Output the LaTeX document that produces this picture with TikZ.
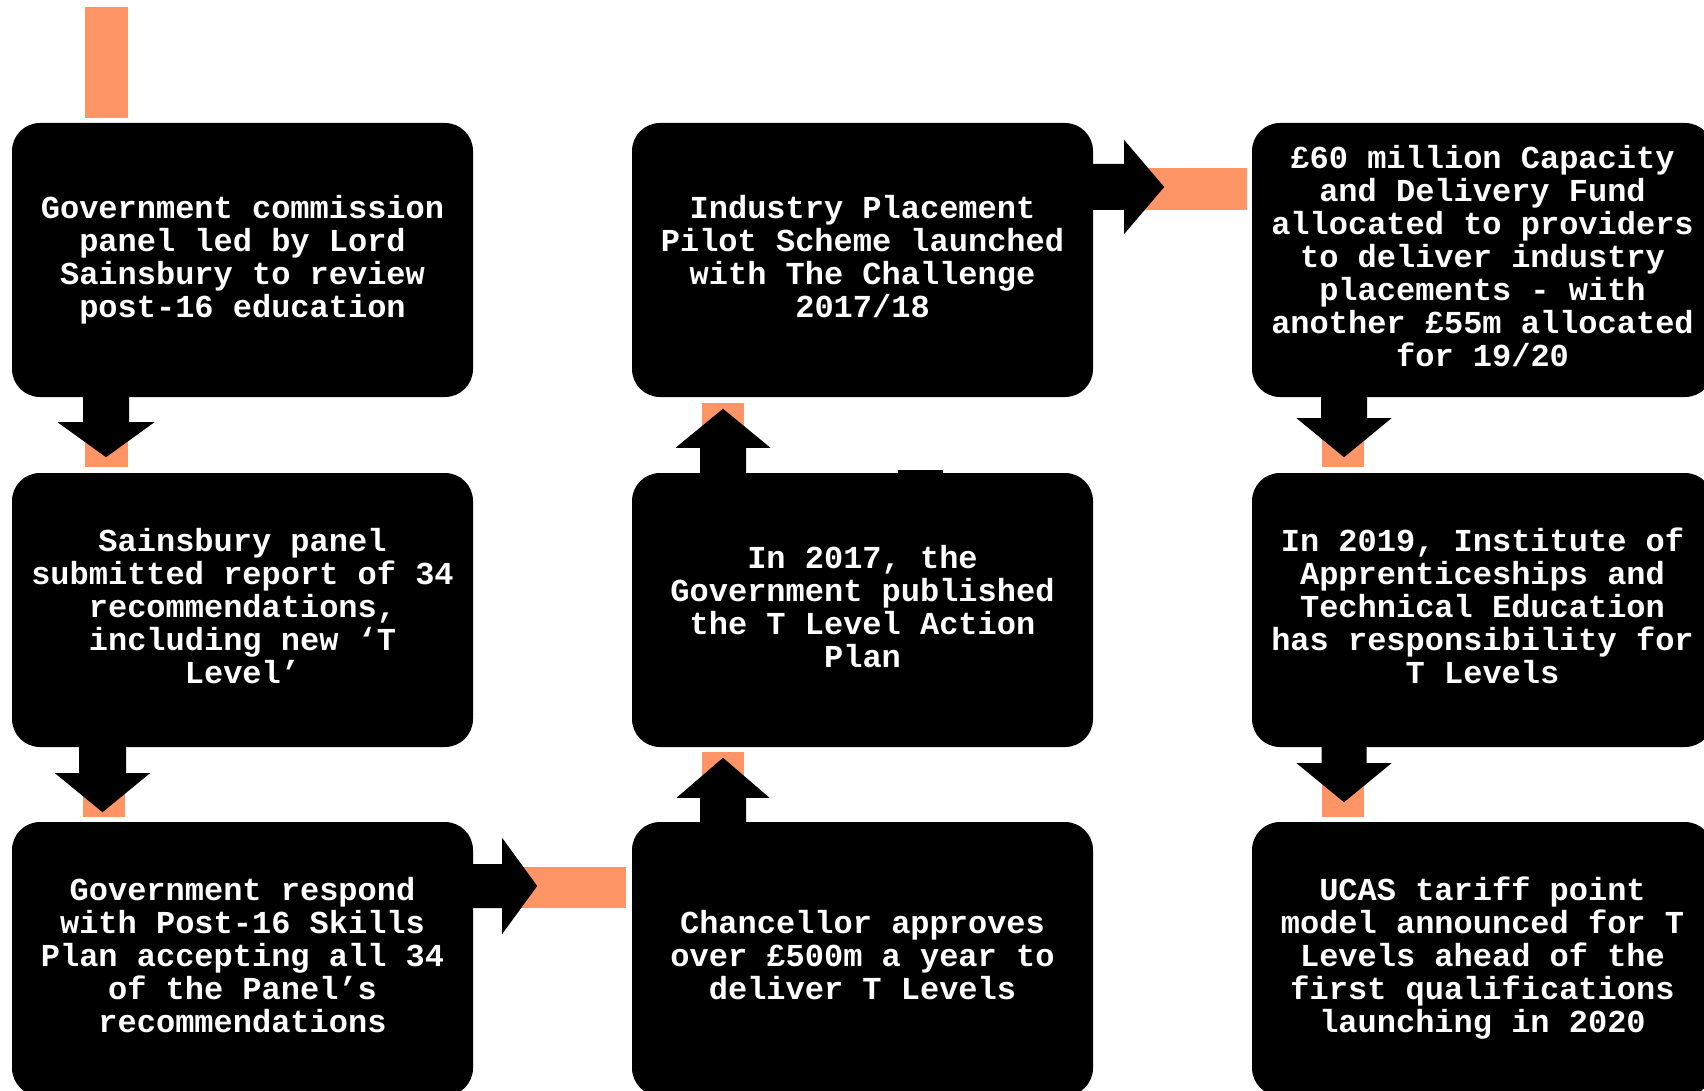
\documentclass[tikz,border=0pt]{standalone}
\usepackage{fontspec}
\newfontfamily\boxfont{Liberation Mono}
\usetikzlibrary{calc}
\definecolor{accent}{RGB}{255,148,102}
\newcommand\vblock[5]{% start, shaft half, shaft len, head half, head len
  \fill[black] ($(#1)+(-#2,0)$) -- ($(#1)+(#2,0)$) -- ($(#1)+(#2,#3)$) -- ($(#1)+(#4,#3)$)
    -- ($(#1)+(0,#3+#5)$) -- ($(#1)+(-#4,#3)$) -- ($(#1)+(-#2,#3)$) -- cycle;}
\newcommand\hblock[5]{% start, shaft half, shaft len, head half, head len
  \fill[black] ($(#1)+(0,-#2)$) -- ($(#1)+(0,#2)$) -- ($(#1)+(#3,#2)$) -- ($(#1)+(#3,#4)$)
    -- ($(#1)+(#3+#5,0)$) -- ($(#1)+(#3,-#4)$) -- ($(#1)+(#3,-#2)$) -- cycle;}
\newcommand\bs{\rule[-9pt]{0pt}{33pt}}
\begin{document}
\begin{tikzpicture}[x=1pt,y=-1pt,
  stepbox/.style={fill=black, rounded corners=28pt, minimum width=461pt, minimum height=274pt,
    inner sep=0pt, text=white, align=center,
    font=\boxfont\bfseries\fontsize{32}{33}\selectfont},
  band/.style={fill=accent}]
\useasboundingbox (0,0) rectangle (1704,1091);
\clip (0,0) rectangle (1704,1091);
\fill[white] (0,0) rectangle (1704,1091);

% stray orange bar at top
\fill[band] (85,7) rectangle (128,118);

% boxes
\node[stepbox] (A) at (242.5,260) {\bs Government commission\\panel led by Lord\\Sainsbury to review\\post-16 education\bs};
\node[stepbox] (B) at (242.5,610) {\bs Sainsbury panel\\submitted report of 34\\recommendations,\\including new ‘T\\Level’\bs};
\node[stepbox] (C) at (242.5,959) {\bs Government respond\\with Post-16 Skills\\Plan accepting all 34\\of the Panel’s\\recommendations\bs};
\node[stepbox] (D) at (862.5,959) {\bs Chancellor approves\\over £500m a year to\\deliver T Levels\bs};
\node[stepbox] (E) at (862.5,610) {\bs In 2017, the\\Government published\\the T Level Action\\Plan\bs};
\node[stepbox] (F) at (862.5,260) {\bs Industry Placement\\Pilot Scheme launched\\with The Challenge\\2017/18\bs};
\node[stepbox] (G) at (1482.5,260) {\bs £60 million Capacity\\and Delivery Fund\\allocated to providers\\to deliver industry\\placements - with\\another £55m allocated\\for 19/20\bs};
\node[stepbox] (H) at (1482.5,610) {\bs In 2019, Institute of\\Apprenticeships and\\Technical Education\\has responsibility for\\T Levels\bs};
\node[stepbox] (I) at (1482.5,959) {\bs UCAS tariff point\\model announced for T\\Levels ahead of the\\first qualifications\\launching in 2020\bs};

% small notch above E
\fill[black] (898,470) rectangle (943,474);

% connector start points
\coordinate (ab) at (A.south -| 106,0);
\coordinate (bc) at (B.south -| 102.5,0);
\coordinate (cd) at (C.east |- 0,886);
\coordinate (de) at (D.north -| 723,0);
\coordinate (ef) at (E.north -| 723,0);
\coordinate (fg) at (F.east |- 0,187);
\coordinate (gh) at (G.south -| 1344,0);
\coordinate (hi) at (H.south -| 1344,0);

% orange bands
\fill[band] ($(ab)+(-21,25)$) rectangle ($(ab)+(22,70)$);
\fill[band] ($(bc)+(-19.5,26)$) rectangle ($(bc)+(22.5,70)$);
\fill[band] ($(cd)+(29,-19)$) rectangle ($(cd)+(153,22)$);
\fill[band] ($(de)+(-21,-24)$) rectangle ($(de)+(21,-70)$);
\fill[band] ($(ef)+(-21,-25)$) rectangle ($(ef)+(21,-70)$);
\fill[band] ($(fg)+(31,-19)$) rectangle ($(fg)+(154,23)$);
\fill[band] ($(gh)+(-22,21)$) rectangle ($(gh)+(20,70)$);
\fill[band] ($(hi)+(-22,16)$) rectangle ($(hi)+(20,70)$);

% black block arrows
\vblock{ab}{23}{25}{48.5}{35}
\vblock{bc}{23.5}{26}{47.5}{39}
\hblock{cd}{22}{29}{48}{35}
\vblock{de}{23}{-24}{46.5}{-40}
\vblock{ef}{23}{-25}{47.5}{-39}
\hblock{fg}{23}{31}{47}{40}
\vblock{gh}{23}{21}{47.5}{39}
\vblock{hi}{22.5}{16}{47.5}{39}
\end{tikzpicture}
\end{document}
